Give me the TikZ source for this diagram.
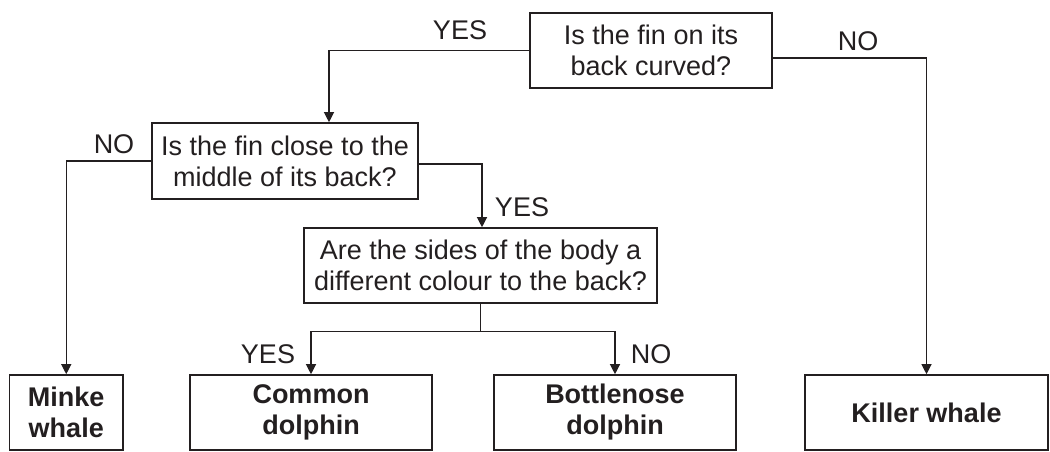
\documentclass[tikz,border=0pt]{standalone}
\usepackage{fontspec}
\setmainfont{Liberation Sans}
\usetikzlibrary{arrows.meta}
\definecolor{ink}{HTML}{231F20}
\begin{document}
\begin{tikzpicture}[x=1pt,y=-1pt,
  box/.style={draw=ink,line width=1.6pt,text=ink,align=center,inner sep=2pt,
    font=\fontsize{27}{31}\selectfont},
  ans/.style={box,font=\fontsize{27}{31}\selectfont\bfseries},
  lbl/.style={text=ink,inner sep=0pt,font=\fontsize{27}{31}\selectfont},
  conn/.style={draw=ink,line width=1.2pt},
  arr/.style={conn,-{Triangle[width=10pt,length=10pt]}}]
\useasboundingbox (0,0) rectangle (1050,452);
\node[box,minimum width=242pt,minimum height=75pt] (q1) at (651,50.4) {Is the fin on its\\back curved?};
\node[box,minimum width=266pt,minimum height=76pt] (q2) at (285,161) {Is the fin close to the\\middle of its back?};
\node[box,minimum width=353pt,minimum height=75pt] (q3) at (480.5,265.5) {Are the sides of the body a\\different colour to the back?};
\node[ans,minimum width=113.5pt,minimum height=75pt] (minke) at (66.25,412.5) {Minke\\whale};
\node[ans,minimum width=242pt,minimum height=75pt] (common) at (311,412.5) {Common\\dolphin};
\node[ans,minimum width=242pt,minimum height=75pt] (bottle) at (615,412.5) {Bottlenose\\dolphin};
\node[ans,minimum width=243pt,minimum height=75pt] (killer) at (926.5,412.5) {Killer whale};
\draw[arr] (q1.west) -| ([xshift=44pt]q2.north);
\draw[arr] ([yshift=-7.6pt]q1.east) -| (killer.north);
\draw[arr] (q2.west) -| (minke.north);
\draw[arr] ([yshift=-3pt]q2.east) -| ([xshift=1.5pt]q3.north);
\draw[conn] (q3.south) -- ++(0,28) coordinate (split);
\draw[arr] (split) -| (common.north);
\draw[arr] (split) -| (bottle.north);
\node[lbl] (l1) at (460,30) {YES};
\node[lbl] (l2) at (858,41) {NO};
\node[lbl] (l3) at (114,144) {NO};
\node[lbl] (l4) at (522,207) {YES};
\node[lbl] (l5) at (268,354) {YES};
\node[lbl] (l6) at (651,354) {NO};
\end{tikzpicture}
\end{document}
